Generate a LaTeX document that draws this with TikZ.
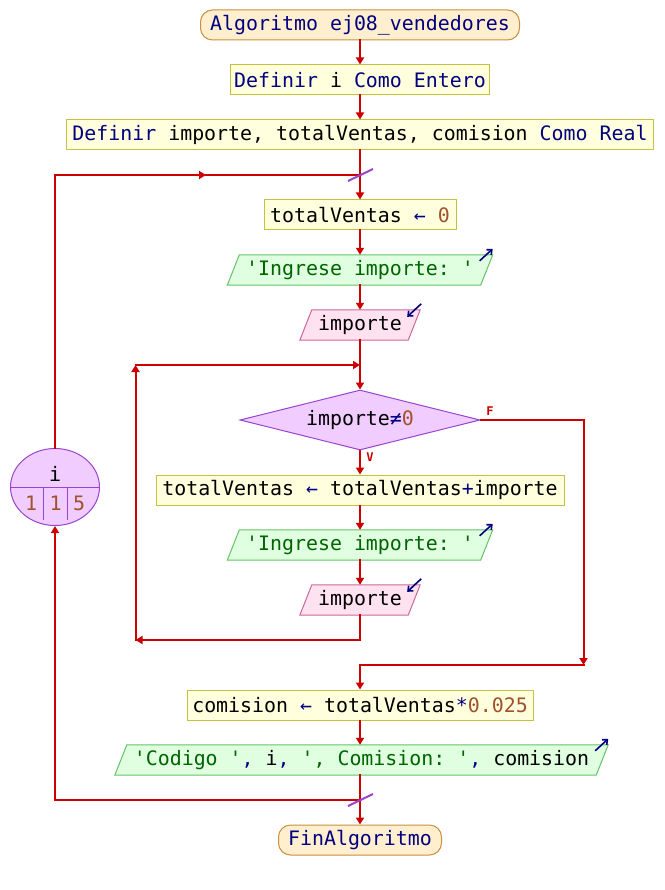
\documentclass[tikz,border=0pt]{standalone}
\usepackage{fontspec}
\setmonofont{DejaVu Sans Mono}
\usetikzlibrary{arrows.meta,shapes.geometric,backgrounds,calc}
\definecolor{kw}{HTML}{000080}
\definecolor{num}{HTML}{A0522D}
\definecolor{strg}{HTML}{006400}
\definecolor{flowred}{HTML}{CC0000}
\definecolor{termf}{HTML}{FFEFCF}
\definecolor{termb}{HTML}{C8903C}
\definecolor{procf}{HTML}{FFFFDD}
\definecolor{procb}{HTML}{C8C040}
\definecolor{outf}{HTML}{E0FFE0}
\definecolor{outb}{HTML}{66C266}
\definecolor{inf}{HTML}{FFE2F0}
\definecolor{inb}{HTML}{CC6699}
\definecolor{decf}{HTML}{F0CCFF}
\definecolor{decb}{HTML}{9944CC}
\newcommand{\sq}{\char"0027\relax}
\begin{document}
\begin{tikzpicture}[x=1pt,y=-1pt,
  font=\ttfamily\fontsize{19.9}{22}\selectfont,
  proc/.style={draw=procb, fill=procf, line width=1pt, minimum height=30pt, inner sep=0pt},
  term/.style={draw=termb, fill=termf, line width=1pt, minimum height=30pt, inner sep=0pt, rounded corners=12pt},
  iotext/.style={inner sep=0pt, minimum height=30pt},
  outp/.style={draw=outb, fill=outf, line width=1pt},
  inp/.style={draw=inb, fill=inf, line width=1pt},
  dec/.style={diamond, aspect=4, draw=decb, fill=decf, line width=1pt, inner sep=0pt, minimum width=240pt, minimum height=60pt},
  flow/.style={draw=flowred, line width=2pt, line cap=rect},
  arr/.style={flow, -{Triangle[length=7pt,width=8pt]}},
  slash/.style={draw=decb, line width=2pt},
  icon/.style={draw=kw, line width=1.6pt, -{Straight Barb[length=4pt,width=7pt]}},
  lbl/.style={text=flowred, font=\ttfamily\bfseries\fontsize{12}{14}\selectfont, inner sep=0pt}
]
% nodes
\node[term, minimum width=319pt] (start) at (360,25) {\color{kw}Algoritmo ej08\_vendedores};
\node[proc, minimum width=259pt] (d1) at (360,80) {{\color{kw}Definir} i {\color{kw}Como Entero}};
\node[proc, minimum width=587pt] (d2) at (360,135) {{\color{kw}Definir} importe, totalVentas, comision {\color{kw}Como Real}};
\node[proc, minimum width=192pt] (t0) at (360,215) {totalVentas {\color{kw}←} {\color{num}0}};
\node[iotext, minimum width=253pt] (o1) at (360,270) {\color{strg}\sq Ingrese importe: \sq};
\node[iotext, minimum width=108pt] (i1) at (360,325) {importe};
\node[dec] (w) at (360,420) {importe{\color{kw}≠}{\color{num}0}};
\node[proc, minimum width=408pt] (t2) at (360,490) {totalVentas {\color{kw}←} totalVentas{\color{kw}+}importe};
\node[iotext, minimum width=253pt] (o2) at (360,545) {\color{strg}\sq Ingrese importe: \sq};
\node[iotext, minimum width=108pt] (i2) at (360,600) {importe};
\node[proc, minimum width=346pt] (com) at (360,705) {comision {\color{kw}←} totalVentas{\color{kw}*}{\color{num}0.025}};
\node[iotext, minimum width=481pt] (o3) at (361.5,760) {{\color{strg}\sq Codigo \sq}{\color{kw},} i{\color{kw},} {\color{strg}\sq, Comision: \sq}{\color{kw},} comision};
\node[term, minimum width=163pt] (endn) at (360,840) {\color{kw}FinAlgoritmo};
% loop counter
\node[ellipse, draw=decb, fill=decf, line width=1pt, minimum width=89pt, minimum height=77pt, inner sep=0pt] (ctr) at (55,487) {};
\draw[draw=decb, line width=1pt] (ctr.west) -- (ctr.east);
\draw[draw=decb, line width=1pt] (43.5,487) -- (43.5,520);
\draw[draw=decb, line width=1pt] (67.5,487) -- (67.5,520);
\node (ci) at (55,474) {i};
\node[text=num] (c1) at (31,503) {1};
\node[text=num] (c2) at (55.5,503) {1};
\node[text=num] (c3) at (79,503) {5};
% labels
\node[lbl] (fl) at (490,411) {F};
\node[lbl] (vl) at (370,457) {V};
% coordinates
\coordinate (j1) at (360,175);
\coordinate (j2) at (360,365);
\coordinate (j3) at (360,640);
\coordinate (lw) at (135.5,640);
\coordinate (lt) at (135.5,365);
\coordinate (fe) at (583.5,420);
\coordinate (fr) at (583.5,665);
\coordinate (j4) at (360,665);
\coordinate (j5) at (360,800);
\coordinate (lb) at (55,800);
\coordinate (ltop) at (55,175);
\coordinate (mid) at (206,175);
% shapes in background
\begin{scope}[on background layer]
\fill[white] (0,0) rectangle (664,890);
\foreach \n/\s in {o1/outp,o2/outp,o3/outp,i1/inp,i2/inp}{
  \draw[\s] ($(\n.south west)+(-6,0)$) -- ($(\n.south east)+(-6,0)$) -- ($(\n.north east)+(6,0)$) -- ($(\n.north west)+(6,0)$) -- cycle;
}
\end{scope}
\useasboundingbox (0,0) rectangle (664,890);
% icons
\foreach \n in {o1,o2,o3}{
  \draw[icon] ($(\n.north east)+(-7,6)$) -- ($(\n.north east)+(6,-6)$);
}
\foreach \n in {i1,i2}{
  \draw[icon] ($(\n.north east)+(7,-6)$) -- ($(\n.north east)+(-7,7)$);
}
% connectors
\draw[arr] (start) -- (d1);
\draw[arr] (d1) -- (d2);
\draw[flow] (d2) -- (j1);
\draw[arr] (j1) -- (t0);
\draw[arr] (t0) -- (o1);
\draw[arr] (o1) -- (i1);
\draw[flow] (i1) -- (j2);
\draw[arr] (j2) -- (w);
\draw[arr] (w) -- (t2);
\draw[arr] (t2) -- (o2);
\draw[arr] (o2) -- (i2);
\draw[flow] (i2) -- (j3);
\draw[arr] (j3) -- (lw);
\draw[arr] (lw) -- (lt);
\draw[arr] (lt) -- (j2);
\draw[flow] (w.east) -- (fe);
\draw[arr] (fe) -- (fr);
\draw[flow] (fr) -- (j4);
\draw[arr] (j4) -- (com);
\draw[arr] (com) -- (o3.north -| com.south);
\draw[flow] (o3.south -| j5) -- (j5);
\draw[arr] (j5) -- (endn);
\draw[flow] (j5) -- (lb);
\draw[arr] (lb) -- (ctr);
\draw[flow] (ctr) -- (ltop);
\draw[arr] (ltop) -- (mid);
\draw[flow] (mid) -- (j1);
% slashes
\draw[slash] ($(j1)+(-12,6)$) -- ($(j1)+(13,-6)$);
\draw[slash] ($(j5)+(-12,6)$) -- ($(j5)+(13,-6)$);
\end{tikzpicture}
\end{document}
